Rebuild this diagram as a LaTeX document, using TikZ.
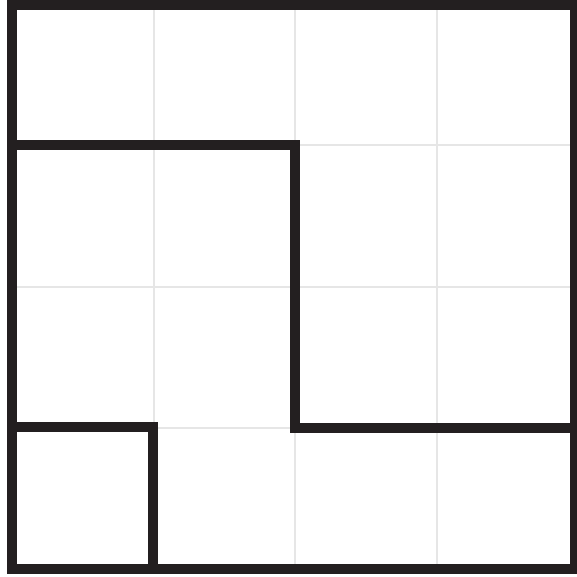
\documentclass[tikz,border=0pt]{standalone}
\usetikzlibrary{positioning}
\definecolor{wall}{RGB}{35,31,32}
\definecolor{gridline}{RGB}{230,230,230}
\tikzset{
  cellgrid/.style={draw=gridline, line width=0.4pt},
  wallline/.style={draw=wall, line width=2.7pt, line join=miter, line cap=rect},
  border/.style={draw=wall, line width=3.1pt, line join=miter},
}
\begin{document}
\begin{tikzpicture}[x=0.1mm, y=-0.1mm]
  \useasboundingbox (0,0) rectangle (577,576);
  \fill[white] (0,0) rectangle (577,576);

  % light cell grid
  \foreach \gx in {154,295,437}
    \draw[cellgrid] (\gx,5) -- (\gx,568);
  \foreach \gy in {145,287,428}
    \draw[cellgrid] (12,\gy) -- (574,\gy);

  % inner walls
  \draw[wallline] (12,145) -- (295,145) -- (295,428) -- (575,428);
  \draw[wallline] (12,427) -- (153,427) -- (153,569);

  % outer border
  \draw[border] (12,5) rectangle (575,569);
\end{tikzpicture}
\end{document}
